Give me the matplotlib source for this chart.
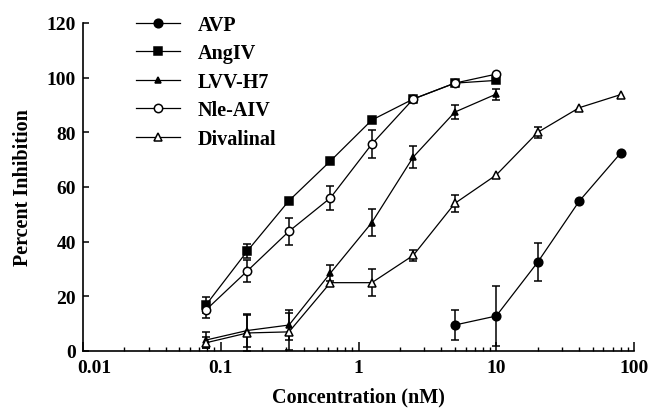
import matplotlib
matplotlib.use("Agg")
import matplotlib.pyplot as plt
import matplotlib.transforms as mtransforms
import numpy as np

# Concentrations (nM), two-fold dilution series
conc = [0.078, 0.156, 0.313, 0.625, 1.25, 2.5, 5, 10, 20, 40, 80]

# AVP
avp_x = [5, 10, 20, 40, 80]
avp_y = [9.5, 12.8, 32.5, 54.8, 72.4]
avp_e = [5.5, 11.0, 7.0, 0, 0]

# AngIV
angiv_x = [0.078, 0.156, 0.313, 0.625, 1.25, 2.5, 5, 10]
angiv_y = [16.8, 36.6, 55.0, 69.5, 84.5, 92.2, 98.0, 99.0]
angiv_e = [3.0, 2.5, 0, 0, 0, 0, 0, 0]

# LVV-H7
lvv_x = [0.078, 0.156, 0.313, 0.625, 1.25, 2.5, 5, 10]
lvv_y = [4.0, 7.5, 9.5, 28.5, 47.0, 71.0, 87.4, 94.0]
lvv_e = [3.0, 6.0, 5.5, 3.0, 4.8, 4.0, 2.5, 2.0]

# Nle-AIV
nle_x = [0.078, 0.156, 0.313, 0.625, 1.25, 2.5, 5, 10]
nle_y = [15.0, 29.3, 43.8, 56.0, 75.7, 92.2, 98.0, 101.3]
nle_e = [3.0, 4.0, 5.0, 4.5, 5.0, 0, 0, 0]

# Divalinal
div_x = [0.078, 0.156, 0.313, 0.625, 1.25, 2.5, 5, 10, 20, 40, 80]
div_y = [3.0, 6.6, 7.0, 25.0, 25.0, 35.0, 54.0, 64.4, 80.0, 89.0, 93.8]
div_e = [2.0, 6.5, 6.8, 0, 5.0, 2.0, 3.0, 0, 2.0, 0, 0]

series = [
    ("AVP", avp_x, avp_y, avp_e, dict(marker="o", ms=6.2, mfc="black")),
    ("AngIV", angiv_x, angiv_y, angiv_e, dict(marker="s", ms=6.4, mfc="black")),
    ("LVV-H7", lvv_x, lvv_y, lvv_e, dict(marker="^", ms=5.0, mfc="black")),
    ("Nle-AIV", nle_x, nle_y, nle_e, dict(marker="o", ms=6.0, mfc="white")),
    ("Divalinal", div_x, div_y, div_e, dict(marker="^", ms=5.4, mfc="white")),
]

x_ticks = [0.01, 0.1, 1, 10, 100]
x_ticklabels = ["0.01", "0.1", "1", "10", "100"]
y_ticks = [0, 20, 40, 60, 80, 100, 120]

plt.rcParams["font.family"] = ["Liberation Serif", "DejaVu Serif"]
plt.rcParams["font.weight"] = "bold"

fig = plt.figure(figsize=(6.5, 4.1), dpi=100)
ax = fig.add_axes([83 / 650, 58 / 410, 551 / 650, 328 / 410])

for name, xs, ys, es, st in series:
    ax.plot(xs, ys, color="black", lw=0.9, mec="black", mew=1.1,
            label=name, zorder=3, **st)
    xs_a, ys_a, es_a = np.array(xs), np.array(ys), np.array(es)
    m = es_a > 0
    ax.errorbar(xs_a[m], ys_a[m], yerr=es_a[m], fmt="none", ecolor="black",
                elinewidth=1.1, capsize=2.6, capthick=1.1, zorder=2)

ax.set_xscale("log")
ax.set_xlim(0.01, 100)
ax.set_ylim(0, 120)
ax.set_xticks(x_ticks)
ax.set_xticklabels(x_ticklabels)
ax.set_yticks(y_ticks)

for s in ("top", "right"):
    ax.spines[s].set_visible(False)
for s in ("left", "bottom"):
    ax.spines[s].set_linewidth(1.2)

ax.tick_params(axis="x", which="major", direction="in", length=6.2, width=1.1,
               pad=6, labelsize=14)
ax.tick_params(axis="x", which="minor", direction="in", length=3.0, width=1.0)
ax.tick_params(axis="y", which="major", direction="in", length=4.0, width=1.1,
               pad=5, labelsize=14)

# nudge the first x label clear of the y-axis "0"
lbl = ax.get_xticklabels()[0]
lbl.set_transform(lbl.get_transform() +
                  mtransforms.ScaledTranslation(11 / 100, 0, fig.dpi_scale_trans))

ax.set_xlabel("Concentration (nM)", fontsize=14.5, fontweight="bold", labelpad=7)
ax.set_ylabel("Percent Inhibition", fontsize=14.5, fontweight="bold", labelpad=10)

leg = ax.legend(loc="upper left", bbox_to_anchor=(136 / 650, 1 - 16 / 410),
                bbox_transform=fig.transFigure, frameon=False, fontsize=14.5,
                handlelength=2.2, handletextpad=0.85, labelspacing=0.42,
                borderpad=0, borderaxespad=0)

fig.savefig("out.png", dpi=100)
